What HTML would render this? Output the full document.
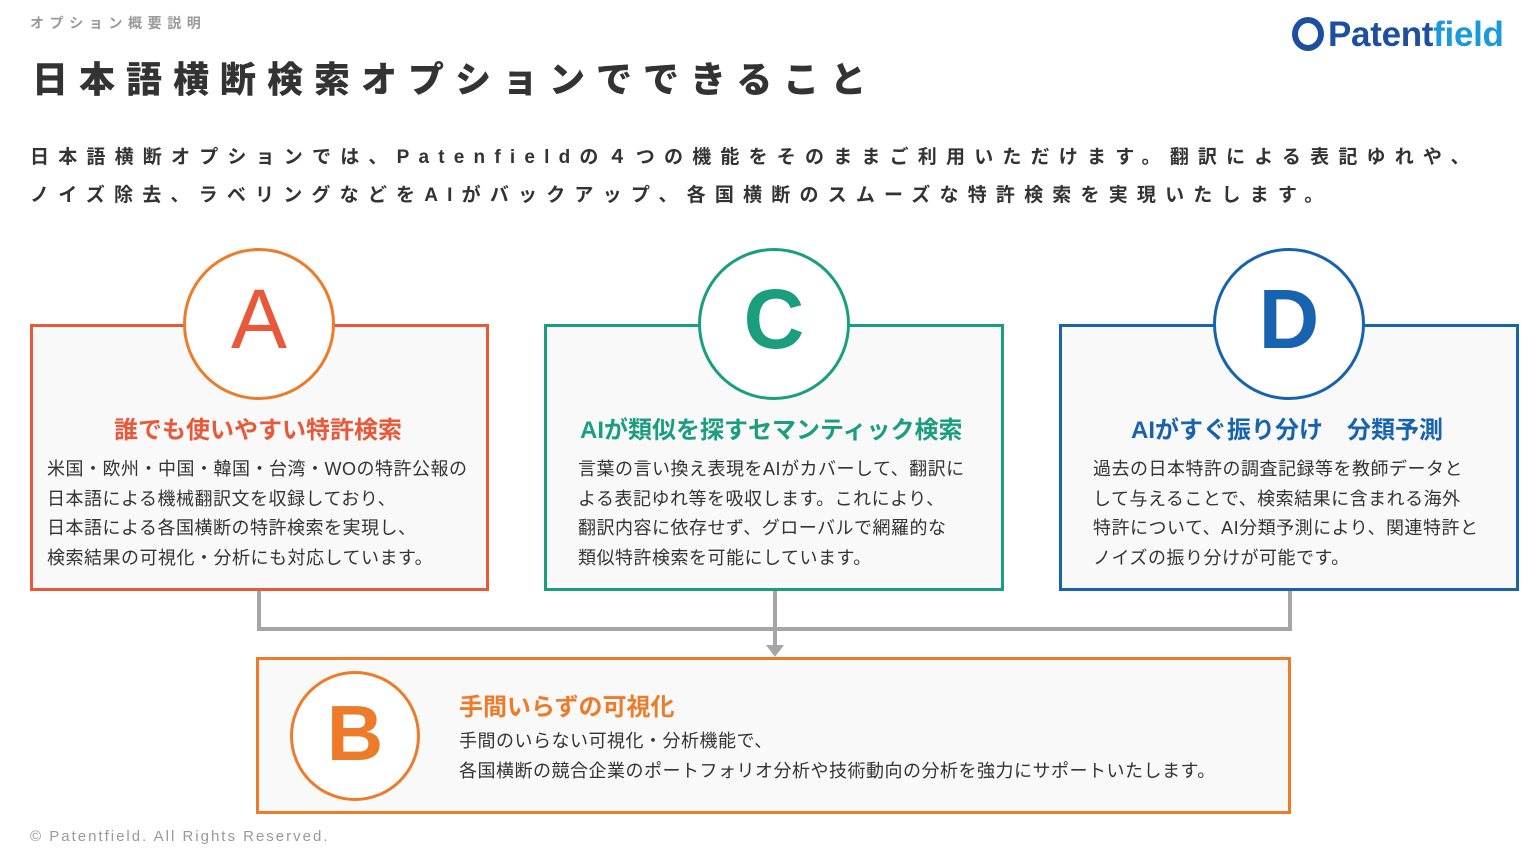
<!DOCTYPE html>
<html><head><meta charset="utf-8">
<style>
body{margin:0;width:1537px;height:850px;background:#fff;position:relative;overflow:hidden;font-family:"Liberation Sans","Noto Sans CJK JP",sans-serif;color:#333}
.a{position:absolute;white-space:nowrap}
.box{position:absolute;background:#f9f9f9;box-sizing:border-box;border:3px solid}
.circ{position:absolute;border-radius:50%;background:#fff;box-sizing:border-box;border:3px solid;text-align:center}
.circ span{font-family:"Liberation Sans",sans-serif;font-size:84px;display:block}
.h{font-size:24px;font-weight:bold}
.t{font-size:18px;line-height:29.5px;color:#333;letter-spacing:0.5px}
.ln{position:absolute;background:#a6a6a6}
</style></head><body>
<div class="a" style="left:30px;top:13px;font-size:14px;color:#999;letter-spacing:5.6px;font-weight:bold">オプション概要説明</div>
<div class="a" style="left:32px;top:51px;font-size:36px;font-weight:900;letter-spacing:11px;color:#333">日本語横断検索オプションでできること</div>
<div class="a" style="left:1292px;top:15px;font-size:35px;font-weight:bold;color:#1d4fa0;letter-spacing:-0.3px"><span style="display:inline-block;width:32px;height:34px;border:6px solid #1d4fa0;border-radius:50%;box-sizing:border-box;vertical-align:-5px;margin-right:4px"></span>Patent<span style="color:#1a9ad9">field</span></div>
<div class="a" style="left:30px;top:139px;font-size:19px;font-weight:bold;letter-spacing:9.2px;line-height:38px">日本語横断オプションでは、Patenfieldの４つの機能をそのままご利用いただけます。翻訳による表記ゆれや、<br>ノイズ除去、ラベリングなどをAIがバックアップ、各国横断のスムーズな特許検索を実現いたします。</div>

<div class="ln" style="left:257px;top:588px;width:4px;height:43px"></div>
<div class="ln" style="left:257px;top:627px;width:1035px;height:4px"></div>
<div class="ln" style="left:1288px;top:588px;width:4px;height:43px"></div>
<div class="ln" style="left:773px;top:588px;width:4px;height:60px"></div>
<svg class="a" style="left:766px;top:645px" width="18" height="13"><polygon points="0,0 18,0 9,12" fill="#a6a6a6"/></svg>

<div class="box" style="left:30px;top:324px;width:459px;height:267px;border-color:#e8593a"></div>
<div class="box" style="left:544px;top:324px;width:460px;height:267px;border-color:#1a9e7e"></div>
<div class="box" style="left:1059px;top:324px;width:460px;height:267px;border-color:#1763b0"></div>
<div class="box" style="left:256px;top:657px;width:1035px;height:157px;border-color:#ee7b2a"></div>

<div class="circ" style="left:183px;top:248px;width:152px;height:152px;border-color:#ee7b2a"><span style="color:#e8593a;margin-top:20px">A</span></div>
<div class="circ" style="left:698px;top:248px;width:152px;height:152px;border-color:#1a9e7e"><span style="color:#1a9e7e;margin-top:20px;font-weight:bold">C</span></div>
<div class="circ" style="left:1213px;top:248px;width:152px;height:152px;border-color:#1763b0"><span style="color:#1763b0;margin-top:20px;font-weight:bold">D</span></div>
<div class="circ" style="left:290px;top:671px;width:130px;height:130px;border-color:#ee7b2a"><span style="color:#ee7b2a;margin-top:14px;font-size:78px;font-weight:bold">B</span></div>

<div class="a h" style="left:114px;top:410px;color:#e8593a">誰でも使いやすい特許検索</div>
<div class="a t" style="left:47px;top:455px">米国・欧州・中国・韓国・台湾・WOの特許公報の<br>日本語による機械翻訳文を収録しており、<br>日本語による各国横断の特許検索を実現し、<br>検索結果の可視化・分析にも対応しています。</div>

<div class="a h" style="left:580px;top:410px;color:#1a9e7e">AIが類似を探すセマンティック検索</div>
<div class="a t" style="left:578px;top:455px">言葉の言い換え表現をAIがカバーして、翻訳に<br>よる表記ゆれ等を吸収します。これにより、<br>翻訳内容に依存せず、グローバルで網羅的な<br>類似特許検索を可能にしています。</div>

<div class="a h" style="left:1131px;top:410px;color:#1763b0">AIがすぐ振り分け　分類予測</div>
<div class="a t" style="left:1093px;top:455px">過去の日本特許の調査記録等を教師データと<br>して与えることで、検索結果に含まれる海外<br>特許について、AI分類予測により、関連特許と<br>ノイズの振り分けが可能です。</div>

<div class="a h" style="left:459px;top:687px;color:#ee7b2a">手間いらずの可視化</div>
<div class="a t" style="left:459px;top:727px">手間のいらない可視化・分析機能で、<br>各国横断の競合企業のポートフォリオ分析や技術動向の分析を強力にサポートいたします。</div>

<div class="a" style="left:30px;top:828px;font-size:15px;color:#999;letter-spacing:2px">© Patentfield. All Rights Reserved.</div>
</body></html>
